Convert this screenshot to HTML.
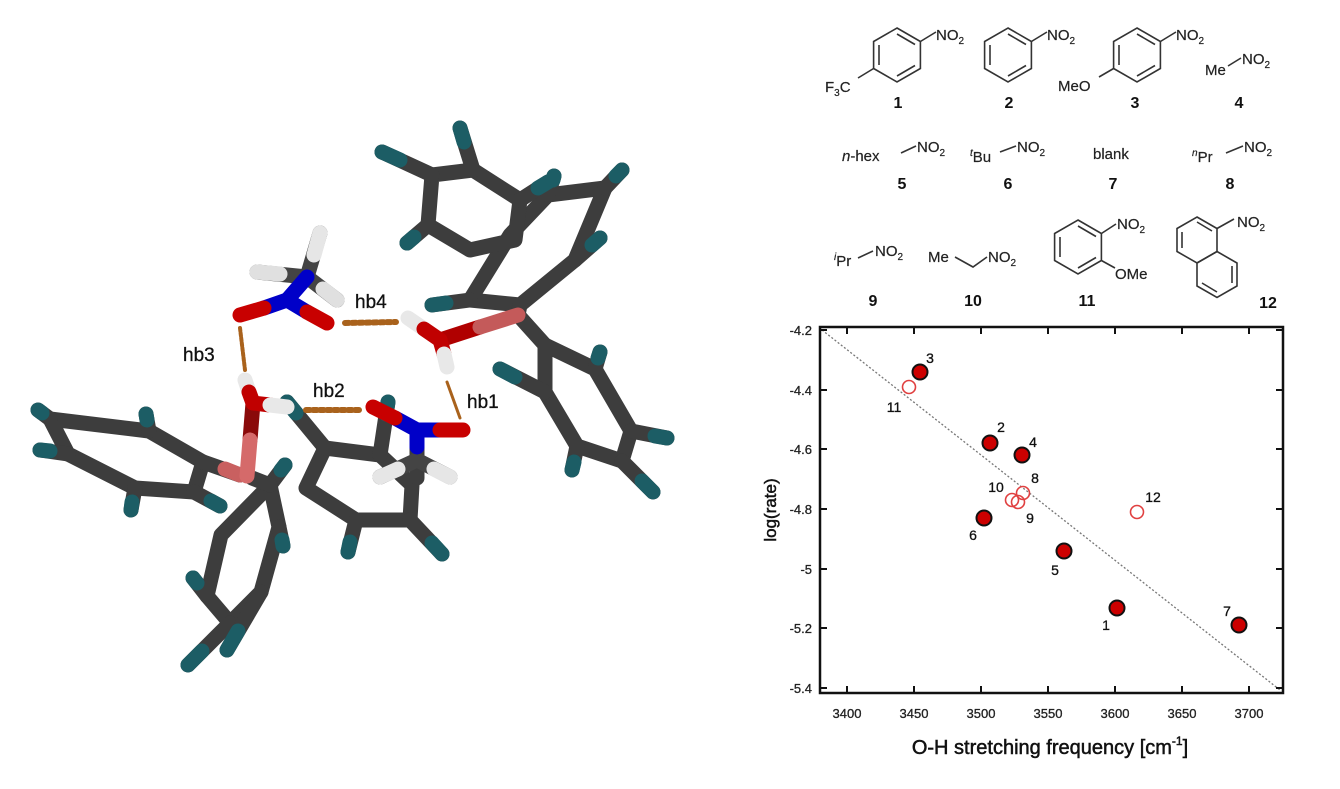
<!DOCTYPE html>
<html><head><meta charset="utf-8"><style>
html,body{margin:0;padding:0;background:#fff;width:1340px;height:789px;overflow:hidden}
svg{display:block}
text{font-family:"Liberation Sans",Arial,sans-serif}
</style></head><body>
<svg width="1340" height="789" viewBox="0 0 1340 789" xmlns="http://www.w3.org/2000/svg">
<rect width="1340" height="789" fill="#fff"/>

<g stroke-linecap="round" stroke-linejoin="round" fill="none">
 <g stroke="#3d3d3d" stroke-width="15">
  <polyline points="548,195 605,188 575,260 520,305 470,300 510,235 548,195"/>
  <polyline points="432,175 473,170 520,200 515,240 470,250 428,225 432,175"/>
  <line x1="432" y1="175" x2="382" y2="152"/><line x1="473" y1="170" x2="460" y2="128"/>
  <line x1="428" y1="225" x2="407" y2="243"/><line x1="520" y1="200" x2="548" y2="182"/>
  <line x1="605" y1="188" x2="622" y2="170"/><line x1="548" y1="195" x2="554" y2="176"/>
  <line x1="575" y1="260" x2="600" y2="238"/><line x1="470" y1="300" x2="432" y2="305"/>
  <line x1="520" y1="305" x2="518" y2="315"/>
  <line x1="518" y1="315" x2="545" y2="345"/>
  <polyline points="545,345 595,369 631,431 622,461 577,446 545,392 545,345"/>
  <line x1="595" y1="369" x2="600" y2="352"/><line x1="545" y1="392" x2="500" y2="369"/>
  <line x1="631" y1="431" x2="667" y2="438"/><line x1="622" y1="461" x2="653" y2="492"/>
  <line x1="577" y1="446" x2="572" y2="470"/>
  <polyline points="50,419 149,431 203,462 194,492 135,488 68,454 50,419"/>
  <line x1="50" y1="419" x2="38" y2="410"/><line x1="68" y1="454" x2="40" y2="450"/>
  <line x1="149" y1="431" x2="146" y2="414"/><line x1="135" y1="488" x2="131" y2="510"/>
  <line x1="194" y1="492" x2="220" y2="506"/>
  <polyline points="325,448 380,455 412,485 410,520 356,520 306,488 325,448"/>
  <line x1="325" y1="448" x2="287" y2="402"/><line x1="380" y1="455" x2="388" y2="402"/>
  <line x1="356" y1="520" x2="348" y2="552"/><line x1="410" y1="520" x2="442" y2="554"/>
  <polyline points="270,485 279,527 261,592 230,623 207,596 221,535 270,485"/>
  <line x1="270" y1="485" x2="285" y2="465"/><line x1="279" y1="527" x2="283" y2="546"/>
  <line x1="207" y1="596" x2="193" y2="578"/><line x1="230" y1="623" x2="188" y2="665"/>
  <line x1="261" y1="592" x2="227" y2="650"/>
  <line x1="417" y1="440" x2="417" y2="478"/>
 </g>
 <g stroke="#1c5d65" stroke-width="15">
  <line x1="400" y1="160" x2="382" y2="152"/><line x1="464" y1="142" x2="460" y2="128"/>
  <line x1="414" y1="237" x2="407" y2="243"/><line x1="538" y1="188" x2="548" y2="182"/>
  <line x1="616" y1="176" x2="622" y2="170"/><line x1="553" y1="180" x2="554" y2="176"/>
  <line x1="592" y1="245" x2="600" y2="238"/><line x1="446" y1="303" x2="432" y2="305"/>
  <line x1="598" y1="358" x2="600" y2="352"/><line x1="515" y1="377" x2="500" y2="369"/>
  <line x1="655" y1="436" x2="667" y2="438"/><line x1="642" y1="481" x2="653" y2="492"/>
  <line x1="574" y1="462" x2="572" y2="470"/>
  <line x1="42" y1="413" x2="38" y2="410"/><line x1="50" y1="451" x2="40" y2="450"/>
  <line x1="147" y1="420" x2="146" y2="414"/><line x1="132" y1="502" x2="131" y2="510"/>
  <line x1="211" y1="501" x2="220" y2="506"/>
  <line x1="296" y1="413" x2="287" y2="402"/><line x1="386" y1="414" x2="388" y2="402"/>
  <line x1="350" y1="542" x2="348" y2="552"/><line x1="432" y1="543" x2="442" y2="554"/>
  <line x1="281" y1="470" x2="285" y2="465"/><line x1="282" y1="540" x2="283" y2="546"/>
  <line x1="197" y1="583" x2="193" y2="578"/><line x1="202" y1="651" x2="188" y2="665"/>
  <line x1="238" y1="631" x2="227" y2="650"/>
 </g>
 <line x1="203" y1="462" x2="240" y2="475" stroke="#3d3d3d" stroke-width="15"/>
 <line x1="225" y1="469" x2="240" y2="475" stroke="#c96060" stroke-width="15"/>
 <line x1="252" y1="478" x2="270" y2="485" stroke="#3d3d3d" stroke-width="15"/>
 <line x1="253" y1="403" x2="250" y2="440" stroke="#8a0a0a" stroke-width="15"/>
 <line x1="250" y1="440" x2="247" y2="476" stroke="#d56a6a" stroke-width="15"/>
 <line x1="440" y1="340" x2="480" y2="327" stroke="#b00000" stroke-width="15"/>
 <line x1="480" y1="327" x2="518" y2="315" stroke="#c45a5a" stroke-width="15"/>
 <line x1="307" y1="277" x2="320" y2="233" stroke="#444" stroke-width="15"/>
 <line x1="314" y1="255" x2="320" y2="233" stroke="#e6e6e6" stroke-width="15"/>
 <line x1="307" y1="277" x2="257" y2="272" stroke="#444" stroke-width="15"/>
 <line x1="280" y1="274" x2="257" y2="272" stroke="#e0e0e0" stroke-width="15"/>
 <line x1="307" y1="277" x2="337" y2="300" stroke="#444" stroke-width="15"/>
 <line x1="323" y1="289" x2="337" y2="300" stroke="#e0e0e0" stroke-width="15"/>
 <line x1="287" y1="300" x2="307" y2="277" stroke="#0000c8" stroke-width="15"/>
 <line x1="287" y1="300" x2="264" y2="308" stroke="#0000c8" stroke-width="15"/>
 <line x1="264" y1="308" x2="240" y2="315" stroke="#c80000" stroke-width="15"/>
 <line x1="287" y1="300" x2="307" y2="312" stroke="#0000c8" stroke-width="15"/>
 <line x1="307" y1="312" x2="327" y2="323" stroke="#c80000" stroke-width="15"/>
 <line x1="408" y1="318" x2="424" y2="329" stroke="#e8e8e8" stroke-width="15"/>
 <line x1="424" y1="329" x2="440" y2="340" stroke="#c00000" stroke-width="15"/>
 <line x1="440" y1="340" x2="444" y2="354" stroke="#c00000" stroke-width="15"/>
 <line x1="444" y1="354" x2="447" y2="367" stroke="#e8e8e8" stroke-width="15"/>
 <line x1="417" y1="460" x2="380" y2="477" stroke="#444" stroke-width="15"/>
 <line x1="398" y1="469" x2="380" y2="477" stroke="#e6e6e6" stroke-width="15"/>
 <line x1="417" y1="460" x2="450" y2="477" stroke="#444" stroke-width="15"/>
 <line x1="434" y1="469" x2="450" y2="477" stroke="#e6e6e6" stroke-width="15"/>
 <line x1="417" y1="430" x2="417" y2="447" stroke="#0000c8" stroke-width="15"/>
 <line x1="417" y1="430" x2="395" y2="418" stroke="#0000c8" stroke-width="15"/>
 <line x1="395" y1="418" x2="373" y2="407" stroke="#c80000" stroke-width="15"/>
 <line x1="417" y1="430" x2="440" y2="430" stroke="#0000c8" stroke-width="15"/>
 <line x1="440" y1="430" x2="463" y2="430" stroke="#c80000" stroke-width="15"/>
 <line x1="245" y1="380" x2="249" y2="392" stroke="#e8e8e8" stroke-width="15"/>
 <line x1="249" y1="392" x2="253" y2="403" stroke="#c00000" stroke-width="15"/>
 <line x1="253" y1="403" x2="270" y2="405" stroke="#c00000" stroke-width="15"/>
 <line x1="270" y1="405" x2="287" y2="407" stroke="#e8e8e8" stroke-width="15"/>
 <g stroke="#a9621c">
  <line x1="345" y1="323" x2="396" y2="322" stroke-width="6" stroke-dasharray="4,3"/>
  <line x1="306" y1="410" x2="362" y2="410" stroke-width="6" stroke-dasharray="4,3"/>
  <line x1="240" y1="328" x2="245" y2="370" stroke-width="4" stroke-dasharray="3,2"/>
  <line x1="447" y1="382" x2="460" y2="418" stroke-width="3"/>
 </g>
</g>
<g font-size="19" fill="#111" stroke="#111" stroke-width="0.3">
 <text x="183" y="361">hb3</text>
 <text x="355" y="308">hb4</text>
 <text x="313" y="397">hb2</text>
 <text x="467" y="408">hb1</text>
</g>

<g stroke="#333" stroke-width="1.6" fill="none">
 <polygon points="897,28 920.4,41.5 920.4,68.5 897,82 873.6,68.5 873.6,41.5"/>
 <line x1="897" y1="34" x2="915" y2="44.5"/><line x1="915" y1="65.5" x2="897" y2="76"/><line x1="879" y1="65" x2="879" y2="45"/>
 <line x1="920.4" y1="41.5" x2="936" y2="32"/><line x1="873.6" y1="68.5" x2="858" y2="78"/>
 <polygon points="1008,28 1031.4,41.5 1031.4,68.5 1008,82 984.6,68.5 984.6,41.5"/>
 <line x1="1008" y1="34" x2="1026" y2="44.5"/><line x1="1026" y1="65.5" x2="1008" y2="76"/><line x1="990" y1="65" x2="990" y2="45"/>
 <line x1="1031.4" y1="41.5" x2="1047" y2="32"/>
 <polygon points="1137,28 1160.4,41.5 1160.4,68.5 1137,82 1113.6,68.5 1113.6,41.5"/>
 <line x1="1137" y1="34" x2="1155" y2="44.5"/><line x1="1155" y1="65.5" x2="1137" y2="76"/><line x1="1119" y1="65" x2="1119" y2="45"/>
 <line x1="1160.4" y1="41.5" x2="1176" y2="32"/><line x1="1113.6" y1="68.5" x2="1099" y2="77"/>
 <line x1="1228" y1="66" x2="1241" y2="58"/>
 <line x1="901" y1="153" x2="916" y2="146"/>
 <line x1="1000" y1="152" x2="1016" y2="146"/>
 <line x1="1226" y1="153" x2="1243" y2="146"/>
 <line x1="858" y1="258" x2="873" y2="251"/>
 <polyline points="955,257 973,267 987,257"/>
 <polygon points="1078,220 1101.4,233.5 1101.4,260.5 1078,274 1054.6,260.5 1054.6,233.5"/>
 <line x1="1078" y1="226" x2="1096" y2="236.5"/><line x1="1096" y1="257.5" x2="1078" y2="268"/><line x1="1060" y1="257" x2="1060" y2="237"/>
 <line x1="1101.4" y1="233.5" x2="1116" y2="224"/><line x1="1101.4" y1="260.5" x2="1115" y2="268"/>
 <polygon points="1197,217 1217,228.5 1217,251.5 1197,263 1177,251.5 1177,228.5"/>
 <polygon points="1217,251.5 1237,263 1237,286 1217,297.5 1197,286 1197,263"/>
 <line x1="1197" y1="222" x2="1212" y2="231"/><line x1="1182" y1="248" x2="1182" y2="232"/>
 <line x1="1232" y1="266" x2="1232" y2="283"/><line x1="1217" y1="292" x2="1202" y2="283"/>
 <line x1="1217" y1="228.5" x2="1234" y2="219"/>
</g>
<g font-size="15" fill="#222" stroke="#222" stroke-width="0.2">
 <text x="936" y="40">NO<tspan font-size="10" dy="4">2</tspan></text>
 <text x="825" y="92">F<tspan font-size="10" dy="4">3</tspan><tspan dy="-4">C</tspan></text>
 <text x="1047" y="40">NO<tspan font-size="10" dy="4">2</tspan></text>
 <text x="1176" y="40">NO<tspan font-size="10" dy="4">2</tspan></text>
 <text x="1058" y="91">MeO</text>
 <text x="1205" y="75">Me</text>
 <text x="1242" y="64">NO<tspan font-size="10" dy="4">2</tspan></text>
 <text x="842" y="161"><tspan font-style="italic">n</tspan>-hex</text>
 <text x="917" y="152">NO<tspan font-size="10" dy="4">2</tspan></text>
 <text x="970" y="162"><tspan font-size="10" dy="-6" font-style="italic">t</tspan><tspan dy="6">Bu</tspan></text>
 <text x="1017" y="152">NO<tspan font-size="10" dy="4">2</tspan></text>
 <text x="1093" y="159">blank</text>
 <text x="1192" y="162"><tspan font-size="10" dy="-6" font-style="italic">n</tspan><tspan dy="6">Pr</tspan></text>
 <text x="1244" y="152">NO<tspan font-size="10" dy="4">2</tspan></text>
 <text x="834" y="266"><tspan font-size="10" dy="-6" font-style="italic">i</tspan><tspan dy="6">Pr</tspan></text>
 <text x="875" y="256">NO<tspan font-size="10" dy="4">2</tspan></text>
 <text x="928" y="262">Me</text>
 <text x="988" y="262">NO<tspan font-size="10" dy="4">2</tspan></text>
 <text x="1117" y="229">NO<tspan font-size="10" dy="4">2</tspan></text>
 <text x="1115" y="279">OMe</text>
 <text x="1237" y="227">NO<tspan font-size="10" dy="4">2</tspan></text>
</g>
<g font-size="16" font-weight="bold" fill="#111" text-anchor="middle">
 <text x="898" y="108">1</text><text x="1009" y="108">2</text><text x="1135" y="108">3</text><text x="1239" y="108">4</text>
 <text x="902" y="189">5</text><text x="1008" y="189">6</text><text x="1113" y="189">7</text><text x="1230" y="189">8</text>
 <text x="873" y="306">9</text><text x="973" y="306">10</text><text x="1087" y="306">11</text><text x="1268" y="308">12</text>
</g>

<line x1="822" y1="330" x2="1280" y2="690" stroke="#777" stroke-width="1.3" stroke-dasharray="2,2"/>
<rect x="820" y="327" width="463" height="366" fill="none" stroke="#111" stroke-width="2.5"/>
<g stroke="#111" stroke-width="2">
 <line x1="820" y1="330" x2="827" y2="330"/><line x1="820" y1="390" x2="827" y2="390"/><line x1="820" y1="449" x2="827" y2="449"/>
 <line x1="820" y1="509" x2="827" y2="509"/><line x1="820" y1="569" x2="827" y2="569"/><line x1="820" y1="628" x2="827" y2="628"/><line x1="820" y1="688" x2="827" y2="688"/>
 <line x1="1276" y1="330" x2="1283" y2="330"/><line x1="1276" y1="390" x2="1283" y2="390"/><line x1="1276" y1="449" x2="1283" y2="449"/>
 <line x1="1276" y1="509" x2="1283" y2="509"/><line x1="1276" y1="569" x2="1283" y2="569"/><line x1="1276" y1="628" x2="1283" y2="628"/><line x1="1276" y1="688" x2="1283" y2="688"/>
 <line x1="847" y1="693" x2="847" y2="686"/><line x1="914" y1="693" x2="914" y2="686"/><line x1="981" y1="693" x2="981" y2="686"/>
 <line x1="1048" y1="693" x2="1048" y2="686"/><line x1="1115" y1="693" x2="1115" y2="686"/><line x1="1182" y1="693" x2="1182" y2="686"/><line x1="1249" y1="693" x2="1249" y2="686"/>
 <line x1="847" y1="327" x2="847" y2="334"/><line x1="914" y1="327" x2="914" y2="334"/><line x1="981" y1="327" x2="981" y2="334"/>
 <line x1="1048" y1="327" x2="1048" y2="334"/><line x1="1115" y1="327" x2="1115" y2="334"/><line x1="1182" y1="327" x2="1182" y2="334"/><line x1="1249" y1="327" x2="1249" y2="334"/>
</g>
<g font-size="13" fill="#222" stroke="#222" stroke-width="0.3" text-anchor="end">
 <text x="812" y="335">-4.2</text><text x="812" y="395">-4.4</text><text x="812" y="454">-4.6</text><text x="812" y="514">-4.8</text>
 <text x="812" y="574">-5</text><text x="812" y="633">-5.2</text><text x="812" y="693">-5.4</text>
</g>
<g font-size="13" fill="#222" stroke="#222" stroke-width="0.3" text-anchor="middle">
 <text x="847" y="718">3400</text><text x="914" y="718">3450</text><text x="981" y="718">3500</text><text x="1048" y="718">3550</text>
 <text x="1115" y="718">3600</text><text x="1182" y="718">3650</text><text x="1249" y="718">3700</text>
</g>
<text x="1050" y="754" font-size="20" text-anchor="middle" fill="#111" stroke="#111" stroke-width="0.5">O-H stretching frequency [cm<tspan font-size="12" dy="-9">-1</tspan><tspan dy="9">]</tspan></text>
<text transform="translate(776,510) rotate(-90)" font-size="17" text-anchor="middle" fill="#111" stroke="#111" stroke-width="0.5">log(rate)</text>

<g fill="none" stroke="#e04040" stroke-width="1.6">
 <circle cx="909" cy="387" r="6.5"/><circle cx="1023" cy="493" r="6.5"/><circle cx="1012" cy="500" r="6.5"/>
 <circle cx="1018" cy="502" r="6.5"/><circle cx="1137" cy="512" r="6.5"/>
</g>
<g fill="#cc0000" stroke="#111" stroke-width="2">
 <circle cx="920" cy="372" r="7.5"/><circle cx="990" cy="443" r="7.5"/><circle cx="1022" cy="455" r="7.5"/>
 <circle cx="984" cy="518" r="7.5"/><circle cx="1064" cy="551" r="7.5"/><circle cx="1117" cy="608" r="7.5"/>
 <circle cx="1239" cy="625" r="7.5"/>
</g>
<g font-size="14" fill="#111" stroke="#111" stroke-width="0.3" text-anchor="middle">
 <text x="930" y="363">3</text><text x="894" y="412">11</text><text x="1001" y="432">2</text><text x="1033" y="447">4</text>
 <text x="996" y="492">10</text><text x="1035" y="483">8</text><text x="1030" y="523">9</text><text x="1153" y="502">12</text>
 <text x="973" y="540">6</text><text x="1055" y="575">5</text><text x="1106" y="630">1</text><text x="1227" y="616">7</text>
</g>
</svg>
</body></html>
